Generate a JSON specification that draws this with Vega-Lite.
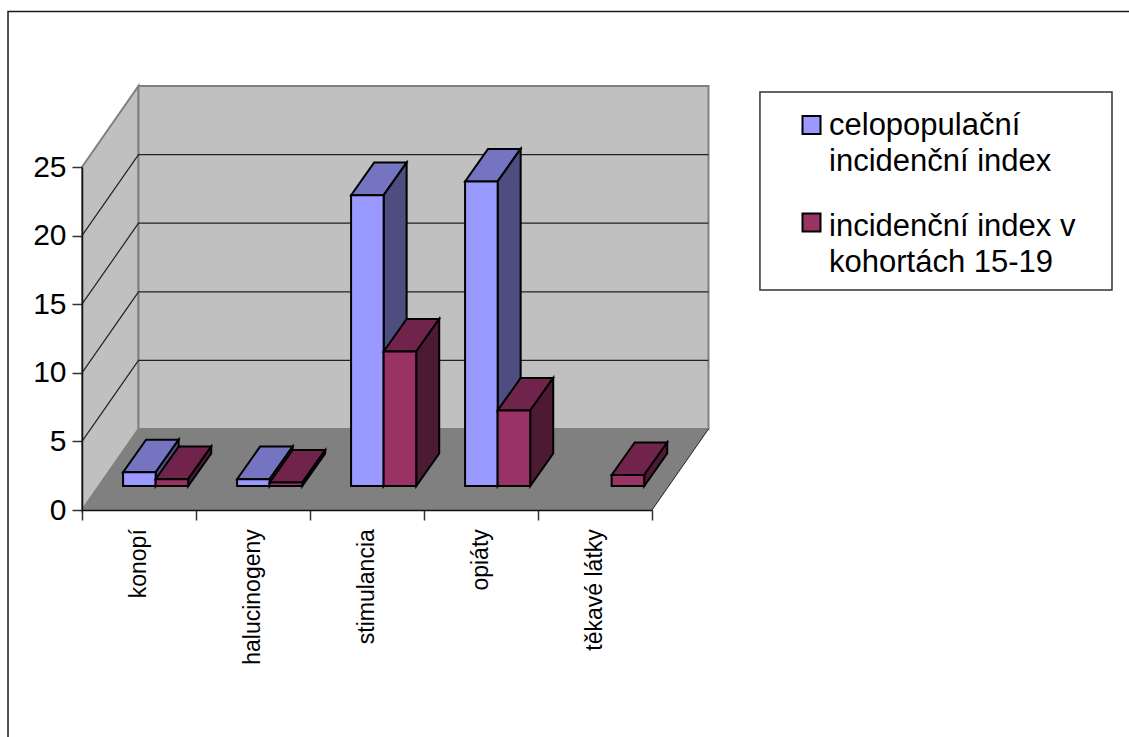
{
  "$schema": "https://vega.github.io/schema/vega-lite/v6.json",
  "width": 570,
  "height": 343,
  "autosize": "none",
  "padding": {"left": 82, "top": 167, "right": 477, "bottom": 227},
  "background": "white",
  "datasets": {
    "bars": [
      {"latka": "konopí", "poradi": 0, "rada": "celopopulační incidenční index", "cislo": 0, "hodnota": 1.0},
      {"latka": "konopí", "poradi": 0, "rada": "incidenční index v kohortách 15-19", "cislo": 1, "hodnota": 0.5},
      {"latka": "halucinogeny", "poradi": 1, "rada": "celopopulační incidenční index", "cislo": 0, "hodnota": 0.5},
      {"latka": "halucinogeny", "poradi": 1, "rada": "incidenční index v kohortách 15-19", "cislo": 1, "hodnota": 0.25},
      {"latka": "stimulancia", "poradi": 2, "rada": "celopopulační incidenční index", "cislo": 0, "hodnota": 21.2},
      {"latka": "stimulancia", "poradi": 2, "rada": "incidenční index v kohortách 15-19", "cislo": 1, "hodnota": 9.8},
      {"latka": "opiáty", "poradi": 3, "rada": "celopopulační incidenční index", "cislo": 0, "hodnota": 22.2},
      {"latka": "opiáty", "poradi": 3, "rada": "incidenční index v kohortách 15-19", "cislo": 1, "hodnota": 5.5},
      {"latka": "těkavé látky", "poradi": 4, "rada": "celopopulační incidenční index", "cislo": 0, "hodnota": 0},
      {"latka": "těkavé látky", "poradi": 4, "rada": "incidenční index v kohortách 15-19", "cislo": 1, "hodnota": 0.8}
    ],
    "ticks": [{"v": 0}, {"v": 5}, {"v": 10}, {"v": 15}, {"v": 20}, {"v": 25}]
  },
  "data": {"name": "bars"},
  "transform": [
    {"filter": "datum.hodnota > 0"},
    {"calculate": "datum.poradi + 0.3603 + datum.cislo * 0.2857", "as": "left"},
    {"calculate": "datum.left + 0.2857", "as": "right"},
    {"calculate": "1.75", "as": "base"},
    {"calculate": "datum.base + datum.hodnota", "as": "top"}
  ],
  "layer": [
    {
      "data": {"values": [{"a": 1}]},
      "transform": [],
      "mark": {"type": "rect", "fill": "white", "stroke": "#1a1a1a", "strokeWidth": 1.5},
      "encoding": {
        "x": {"datum": -0.649, "type": "quantitative", "scale": {"domain": [0, 5], "nice": false, "zero": false}, "axis": {"values": [0, 1, 2, 3, 4, 5], "title": null, "labels": false, "domain": true, "domainColor": "#111", "domainWidth": 1.5, "tickColor": "#333", "tickSize": 10, "tickWidth": 1.5, "grid": false, "zindex": 1}},
        "x2": {"datum": 10.5},
        "y": {"datum": 36.33, "type": "quantitative", "scale": {"domain": [0, 25], "nice": false, "zero": false}, "axis": {"values": [0, 5, 10, 15, 20, 25], "title": null, "format": "d", "labelFont": "Liberation Sans", "labelFontSize": 30, "labelColor": "black", "labelPadding": 6, "domain": true, "domainColor": "#111", "domainWidth": 1.5, "tickColor": "#333", "tickSize": 10, "tickWidth": 1.5, "grid": false, "zindex": 1}},
        "y2": {"datum": -25}
      }
    },
    {
      "data": {"values": [{"a": 1}]},
      "transform": [],
      "mark": {"type": "rect", "fill": "white", "stroke": "#333", "strokeWidth": 1.5},
      "encoding": {
        "x": {"datum": 5.947, "type": "quantitative"},
        "x2": {"datum": 9.035},
        "y": {"datum": 30.47, "type": "quantitative"},
        "y2": {"datum": 16.03}
      }
    },
    {
      "data": {"values": [{"strana": 0}, {"strana": 1}]},
      "transform": [
        {"calculate": "datum.strana * 0.4956", "as": "x"},
        {"calculate": "datum.strana * 5.904", "as": "y0"},
        {"calculate": "datum.y0 + 25", "as": "y1"}
      ],
      "mark": {"type": "area", "orient": "vertical", "fill": "#c0c0c0", "stroke": "#808080", "strokeWidth": 2},
      "encoding": {
        "x": {"field": "x", "type": "quantitative"},
        "y": {"field": "y1", "type": "quantitative"},
        "y2": {"field": "y0"}
      }
    },
    {
      "data": {"values": [{"a": 1}]},
      "transform": [],
      "mark": {"type": "rect", "fill": "#c0c0c0", "stroke": "#808080", "strokeWidth": 2},
      "encoding": {
        "x": {"datum": 0.4956, "type": "quantitative"},
        "x2": {"datum": 5.4956},
        "y": {"datum": 5.904, "type": "quantitative"},
        "y2": {"datum": 30.904}
      }
    },
    {
      "data": {"values": [{"strana": 0}, {"strana": 1}]},
      "transform": [
        {"calculate": "datum.strana * 0.4956", "as": "x"},
        {"calculate": "datum.x + 5", "as": "x2"},
        {"calculate": "datum.strana * 5.904", "as": "y"}
      ],
      "mark": {"type": "area", "orient": "horizontal", "fill": "#808080"},
      "encoding": {
        "x": {"field": "x", "type": "quantitative"},
        "x2": {"field": "x2"},
        "y": {"field": "y", "type": "quantitative"}
      }
    },
    {
      "data": {"values": [{"strana": 0}, {"strana": 1}]},
      "transform": [
        {"calculate": "5 + datum.strana * 0.4956", "as": "x"},
        {"calculate": "datum.strana * 5.904", "as": "y"}
      ],
      "mark": {"type": "line", "color": "#222", "strokeWidth": 1},
      "encoding": {
        "x": {"field": "x", "type": "quantitative"},
        "y": {"field": "y", "type": "quantitative"}
      }
    },
    {
      "data": {"name": "ticks"},
      "transform": [
        {"filter": "datum.v > 0 && datum.v < 25"},
        {"calculate": "[0, 0.4956, 5.4956]", "as": "x"},
        {"flatten": ["x"]},
        {"calculate": "datum.v + (datum.x > 0 ? 5.904 : 0)", "as": "y"}
      ],
      "mark": {"type": "line", "color": "#222", "strokeWidth": 1.2},
      "encoding": {
        "x": {"field": "x", "type": "quantitative"},
        "y": {"field": "y", "type": "quantitative"},
        "detail": {"field": "v"}
      }
    },
    {
      "transform": [
        {"filter": "datum.cislo == 0"},
        {"calculate": "[0, 1]", "as": "hloubka"},
        {"flatten": ["hloubka"]},
        {"calculate": "datum.left + datum.hloubka * 0.2018", "as": "xa"},
        {"calculate": "datum.right + datum.hloubka * 0.2018", "as": "xb"},
        {"calculate": "datum.top + datum.hloubka * 2.37", "as": "yt"}
      ],
      "mark": {"type": "area", "orient": "horizontal", "fill": "#7474c0", "stroke": "black", "strokeWidth": 2},
      "encoding": {
        "x": {"field": "xa", "type": "quantitative"},
        "x2": {"field": "xb"},
        "y": {"field": "yt", "type": "quantitative"},
        "detail": {"field": "latka"}
      }
    },
    {
      "transform": [
        {"filter": "datum.cislo == 0"},
        {"calculate": "[0, 1]", "as": "hloubka"},
        {"flatten": ["hloubka"]},
        {"calculate": "datum.right + datum.hloubka * 0.2018", "as": "xs"},
        {"calculate": "datum.base + datum.hloubka * 2.37", "as": "ya"},
        {"calculate": "datum.top + datum.hloubka * 2.37", "as": "yb"}
      ],
      "mark": {"type": "area", "orient": "vertical", "fill": "#4d4d80", "stroke": "black", "strokeWidth": 2},
      "encoding": {
        "x": {"field": "xs", "type": "quantitative"},
        "y": {"field": "yb", "type": "quantitative"},
        "y2": {"field": "ya"},
        "detail": {"field": "latka"}
      }
    },
    {
      "transform": [{"filter": "datum.cislo == 0"}],
      "mark": {"type": "rect", "stroke": "black", "strokeWidth": 2},
      "encoding": {
        "x": {"field": "left", "type": "quantitative"},
        "x2": {"field": "right"},
        "y": {"field": "top", "type": "quantitative"},
        "y2": {"field": "base"},
        "color": {
          "field": "rada",
          "type": "nominal",
          "scale": {"domain": ["celopopulační incidenční index", "incidenční index v kohortách 15-19"], "range": ["#9999ff", "#993366"]},
          "legend": {
            "title": null,
            "orient": "none",
            "legendX": 714,
            "legendY": -57.5,
            "padding": 0,
            "symbolType": "square",
            "symbolSize": 324,
            "symbolStrokeColor": "black",
            "symbolStrokeWidth": 2,
            "symbolOpacity": 1,
            "labelFont": "Liberation Sans",
            "labelFontSize": 31,
            "labelColor": "black",
            "labelOffset": 2,
            "labelLimit": 400,
            "labelExpr": "datum.label == 'celopopulační incidenční index' ? ['celopopulační', 'incidenční index'] : ['incidenční index v', 'kohortách 15-19']",
            "rowPadding": 29.5,
            "encode": {"labels": {"update": {"lineHeight": {"value": 36}, "dy": {"signal": "datum.value == 'celopopulační incidenční index' ? 1 : 4"}}}}
          }
        }
      }
    },
    {
      "transform": [
        {"filter": "datum.cislo == 1"},
        {"calculate": "[0, 1]", "as": "hloubka"},
        {"flatten": ["hloubka"]},
        {"calculate": "datum.left + datum.hloubka * 0.2018", "as": "xa"},
        {"calculate": "datum.right + datum.hloubka * 0.2018", "as": "xb"},
        {"calculate": "datum.top + datum.hloubka * 2.37", "as": "yt"}
      ],
      "mark": {"type": "area", "orient": "horizontal", "fill": "#70244c", "stroke": "black", "strokeWidth": 2},
      "encoding": {
        "x": {"field": "xa", "type": "quantitative"},
        "x2": {"field": "xb"},
        "y": {"field": "yt", "type": "quantitative"},
        "detail": {"field": "latka"}
      }
    },
    {
      "transform": [
        {"filter": "datum.cislo == 1"},
        {"calculate": "[0, 1]", "as": "hloubka"},
        {"flatten": ["hloubka"]},
        {"calculate": "datum.right + datum.hloubka * 0.2018", "as": "xs"},
        {"calculate": "datum.base + datum.hloubka * 2.37", "as": "ya"},
        {"calculate": "datum.top + datum.hloubka * 2.37", "as": "yb"}
      ],
      "mark": {"type": "area", "orient": "vertical", "fill": "#4d1a33", "stroke": "black", "strokeWidth": 2},
      "encoding": {
        "x": {"field": "xs", "type": "quantitative"},
        "y": {"field": "yb", "type": "quantitative"},
        "y2": {"field": "ya"},
        "detail": {"field": "latka"}
      }
    },
    {
      "transform": [{"filter": "datum.cislo == 1"}],
      "mark": {"type": "rect", "stroke": "black", "strokeWidth": 2},
      "encoding": {
        "x": {"field": "left", "type": "quantitative"},
        "x2": {"field": "right"},
        "y": {"field": "top", "type": "quantitative"},
        "y2": {"field": "base"},
        "color": {"field": "rada", "type": "nominal"}
      }
    },
    {
      "data": {"name": "bars"},
      "transform": [
        {"filter": "datum.cislo == 0"},
        {"calculate": "datum.poradi + 0.5", "as": "stred"}
      ],
      "mark": {"type": "text", "angle": 270, "align": "right", "baseline": "middle", "font": "Liberation Sans", "fontSize": 23, "color": "black"},
      "encoding": {
        "x": {"field": "stred", "type": "quantitative"},
        "y": {"datum": -1.4, "type": "quantitative"},
        "text": {"field": "latka"}
      }
    }
  ]
}
